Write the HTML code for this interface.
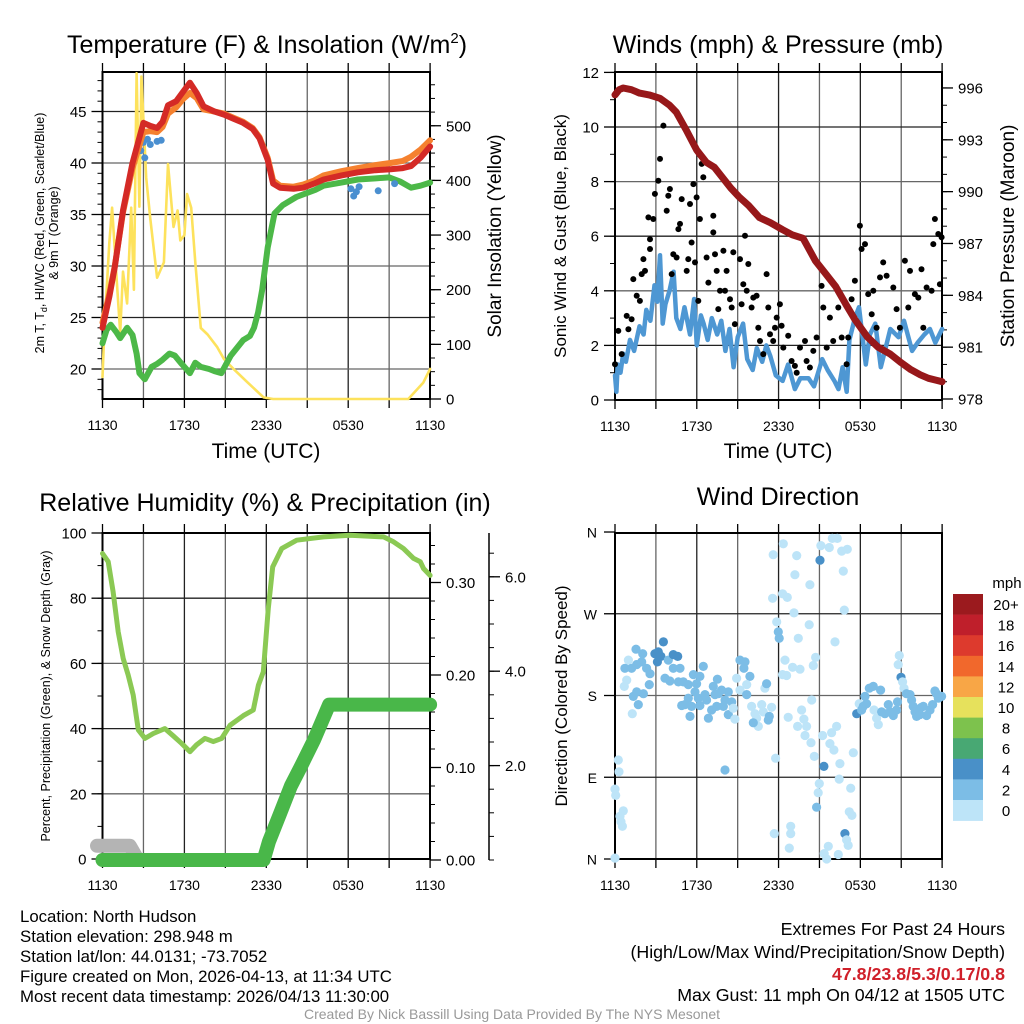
<!DOCTYPE html>
<html><head><meta charset="utf-8">
<style>
html,body{margin:0;padding:0;background:#fff;}
svg{display:block;font-family:"Liberation Sans",sans-serif;}
.nar{font-family:"Liberation Sans Narrow","Liberation Sans",sans-serif;}
</style></head>
<body>
<svg id="chart" width="1024" height="1024" viewBox="0 0 1024 1024" xmlns="http://www.w3.org/2000/svg">
<rect x="0" y="0" width="1024" height="1024" fill="#fff"/>
<g id="layer"></g>
<g font-size="25" text-anchor="middle" fill="#000">
<text x="267" y="53">Temperature (F) &amp; Insolation (W/m<tspan dy="-10" font-size="15">2</tspan><tspan dy="10">)</tspan></text>
<text x="778" y="53">Winds (mph) &amp; Pressure (mb)</text>
<text x="265" y="511">Relative Humidity (%) &amp; Precipitation (in)</text>
<text x="778" y="505">Wind Direction</text>
</g>
<g fill="#000" text-anchor="middle">
<text x="266" y="458" font-size="21">Time (UTC)</text>
<text x="778" y="458" font-size="21">Time (UTC)</text>
<text transform="translate(44,233) rotate(-90)" font-size="12.5">2m T, T<tspan font-size="9" dy="3">d</tspan><tspan dy="-3">, HI/WC (Red, Green, Scarlet/Blue)</tspan></text>
<text transform="translate(58,233) rotate(-90)" font-size="12.5">&amp; 9m T (Orange)</text>
<text transform="translate(501,236) rotate(-90)" font-size="19">Solar Insolation (Yellow)</text>
<text transform="translate(566,236) rotate(-90)" font-size="17">Sonic Wind &amp; Gust (Blue, Black)</text>
<text transform="translate(1014,236) rotate(-90)" font-size="19">Station Pressure (Maroon)</text>
<text transform="translate(50,696) rotate(-90)" font-size="12.5">Percent, Precipitation (Green), &amp; Snow Depth (Gray)</text>
<text transform="translate(567,696) rotate(-90)" font-size="17">Direction (Colored By Speed)</text>
</g>
<g class="nar" font-size="16.8" fill="#000">
<text x="20" y="922">Location: North Hudson</text>
<text x="20" y="942">Station elevation: 298.948 m</text>
<text x="20" y="962">Station lat/lon: 44.0131; -73.7052</text>
<text x="20" y="982">Figure created on Mon, 2026-04-13, at 11:34 UTC</text>
<text x="20" y="1002">Most recent data timestamp: 2026/04/13 11:30:00</text>
</g>
<g class="nar" font-size="17.8" fill="#000" text-anchor="end">
<text x="1005" y="935">Extremes For Past 24 Hours</text>
<text x="1005" y="958">(High/Low/Max Wind/Precipitation/Snow Depth)</text>
<text x="1005" y="980" fill="#d0202a" font-weight="bold">47.8/23.8/5.3/0.17/0.8</text>
<text x="1005" y="1001">Max Gust: 11 mph On 04/12 at 1505 UTC</text>
</g>
<text class="nar" x="512" y="1019" font-size="14" fill="#999" text-anchor="middle">Created By Nick Bassill Using Data Provided By The NYS Mesonet</text>
</svg>
<script>
// ---------- DATA (hours since 1130 UTC) ----------
var xTickLabels = ["1130","1730","2330","0530","1130"];
var redTimes = [0,0.5,0.9,1.5,2.2,3,3.5,4,4.4,4.8,5.4,5.9,6.4,6.9,7.4,8.2,8.9,9.6,10.3,11,11.5,12.1,12.5,13,14,14.7,15.5,16.2,17.5,18.7,20,21.1,22,22.6,23.3,24];
var redTemps = [24,27,29.9,35.4,40,43.9,43.6,43.4,44,45.6,46,46.9,47.8,46.8,45.5,45,44.7,44.3,43.9,43.3,42.4,40.3,38,37.6,37.5,37.6,38,38.4,38.8,39.1,39.3,39.4,39.5,39.7,40.5,41.6];
var orangeTemps = [24.5,27.3,30,35.2,39.5,43,43.1,43,43.5,44.8,45.4,46.2,46.8,46.3,45.2,45,44.8,44.4,44,43.4,42.5,40.5,38.3,37.8,37.7,37.9,38.3,38.8,39.2,39.5,39.8,40,40.2,40.6,41.3,42.2];
var dewTimes = [0,0.3,0.6,1,1.3,1.8,2.2,2.5,2.7,3.1,3.6,4,4.4,4.9,5.3,5.8,6.4,6.8,7.2,7.8,8.2,8.7,9.4,10.3,10.8,11.1,11.4,11.7,12.1,12.6,13.2,14.2,15.6,16.2,17.5,18.7,20,21,21.8,22.6,23.3,24];
var dewPoints = [22.5,23.8,24.3,23.6,23,24,23.3,21.5,19.6,19,20.2,20.5,20.9,21.5,21.3,20.5,19.6,20.6,20.2,20,19.8,19.6,21.3,22.8,23.2,24,25.5,27.7,31.8,35.1,35.9,36.7,37.4,37.8,38.1,38.4,38.5,38.6,38.2,37.6,37.8,38.1];
var chillTimes = [2.6,2.8,3.0,3.1,3.3,3.5,4.0,4.3,18.2,18.4,18.6,18.8,20.2,21.4];
var chillTemps = [41.5,41.2,42,40.5,42.3,41.8,42.1,42.2,37.5,36.8,37.2,37.7,37.3,38.0];
var insoTimes = [0,0.15,0.5,0.7,1,1.3,1.5,1.8,2.1,2.3,2.5,2.7,2.85,3.2,3.5,4,4.5,4.8,5.2,5.5,5.7,6,6.2,6.5,6.8,7.2,7.7,8.4,8.9,9.6,10.6,11.8,12.5,22.4,23.5,24];
var insoValues = [40,132,285,350,232,121,233,175,350,200,596,352,590,405,330,222,250,430,315,345,290,300,375,350,250,130,118,95,73,55,31,3,0,0,30,55];
var windTimes = [0,0.1,0.2,0.4,0.6,0.8,1.1,1.4,1.8,2.1,2.3,2.6,2.9,3.1,3.3,3.5,3.7,4.0,4.3,4.5,4.8,5.1,5.5,5.8,6.0,6.3,6.5,6.8,7.1,7.5,7.8,8.1,8.4,8.7,9.0,9.4,9.7,10.1,10.4,10.8,11.1,11.4,11.8,12.3,12.7,13.2,13.6,14.2,14.6,15.2,15.6,16.1,16.4,16.7,17.0,17.2,17.6,17.9,18.4,18.7,19.1,19.5,19.8,20.2,20.8,21.2,21.8,22.2,22.7,23.1,23.5,24];
var windSpeeds = [0.9,0.3,1.3,1.0,1.7,1.4,2.2,1.8,2.7,2.4,3.3,2.9,4.2,3.6,5.3,2.8,3.5,4.0,4.7,3.0,2.6,3.4,2.4,3.7,2.0,3.1,2.8,2.2,3.0,2.4,2.9,1.8,2.6,1.2,2.3,2.8,1.5,1.1,1.9,1.4,2.0,1.6,0.9,0.7,1.3,0.4,0.8,0.8,0.5,1.5,1.1,0.7,0.4,1.2,0.3,2.2,3.0,3.4,1.3,2.4,2.8,1.2,1.8,2.6,2.3,2.9,1.8,2.1,2.4,2.6,2.1,2.6];
var gustTimes = [0,0.24,0.49,0.86,0.98,1.22,1.34,1.59,1.83,1.96,2.08,2.2,2.45,2.57,2.57,2.81,2.93,3.18,3.3,3.55,3.79,3.91,4.03,4.16,4.28,4.52,4.65,4.77,4.89,5.26,5.38,5.5,5.62,5.75,5.87,5.99,6.11,6.23,6.36,6.48,6.72,6.85,7.21,7.21,7.34,7.46,7.58,7.7,7.95,8.07,8.19,8.44,8.56,8.68,8.8,9.17,9.29,9.41,9.54,9.66,9.78,10.02,10.15,10.39,10.51,10.64,10.88,11.12,11.25,11.37,11.61,11.74,11.86,12.1,12.22,12.35,12.71,12.96,13.2,13.33,13.57,13.94,14.06,14.3,14.55,14.79,15.16,15.28,15.53,15.77,16.01,16.38,16.63,16.99,17.11,17.36,17.6,17.97,18.09,18.34,18.58,18.83,18.95,19.19,19.44,19.68,19.93,20.42,20.66,20.9,21.27,21.52,21.64,22,22.25,22.49,22.62,22.86,23.23,23.35,23.47,23.72,23.84,23.96];
var gustSpeeds = [1.31,2.53,1.68,3.08,2.59,2.96,4.43,3.82,3.63,4.61,5.16,4.73,6.69,5.53,5.89,6.63,7.55,8.03,8.83,10.05,6.93,7.48,7.73,4.61,5.34,5.22,6.26,6.45,7.36,4.73,5.16,7.18,5.77,7.91,5.04,7.42,3.63,6.63,8.65,8.16,5.22,4.3,6.75,6.14,5.34,4.73,3.33,4,5.47,4,4.73,3.69,3.39,5.41,2.78,5.16,3.51,4.24,6.02,4,4.98,3.39,3.75,3.82,2.65,2.16,1.68,4.61,3.39,2.41,2.16,2.65,3.02,3.51,2.72,1.92,2.35,1.43,1.25,1,1.92,2.16,1.43,1.19,1.8,2.29,4.18,3.39,1.92,3.02,2.16,3.39,2.29,1.31,2.29,3.69,4.37,6.38,5.53,5.71,3.88,3.14,4,2.65,4.49,5.04,4.55,4.12,3.33,2.65,5.1,3.39,4.73,3.88,3.75,4.79,2.65,4.12,4,5.71,6.63,6.08,4.24,5.96];
var pressTimes = [0,0.3,0.6,1.2,1.8,2.5,3.3,4,4.5,5.2,6,6.7,7.3,7.9,8.5,9.1,9.8,10.6,11.4,12.3,13,13.8,14.7,15.5,16.2,17,17.6,18.5,19.3,20.2,21,21.7,22.4,23,23.5,24];
var pressValues = [995.6,995.9,996,995.9,995.7,995.6,995.4,995,994.6,993.6,992.4,991.7,991.4,990.8,990.2,989.7,989.2,988.5,988.2,987.8,987.5,987.3,986,985.2,984.5,983.4,982.6,981.6,981,980.6,980.1,979.7,979.4,979.2,979.1,979];
var rhTimes = [0,0.42,0.78,1.15,1.52,1.88,2.25,2.62,3.11,3.72,4.57,5.18,5.79,6.41,6.89,7.51,8.12,8.73,9.34,10.32,11.05,11.42,11.78,12.15,12.47,13.13,14.23,16.19,18.14,20.59,21.32,22.05,22.79,23.28,23.52,24];
var rhValues = [93.7,91.2,82,69.7,61.5,56.4,50.3,39.6,37,38.5,40,37.8,35.5,32.9,35,37,36,37,41,44,45.7,53.3,57.4,76.9,89.6,95.2,97.8,98.8,99.3,98.8,97.3,95.2,92.2,91.2,89.1,87];
var precipTimes = [0,11.8,12.2,13,13.8,14.5,15.5,16.6,24];
var precipValues = [0,0,0.02,0.05,0.08,0.1,0.13,0.168,0.168];
var snowTimes = [-0.4,2.0,2.6,24];
var snowValues = [0.3,0.3,0,0];
var dirTimes = [0,0.24,0.29,0,0.05,0.61,0.37,0.44,0.54,0.98,0.73,1.22,1.59,1.96,2.32,2.57,1.54,2.03,0.86,0.68,1.34,1.59,2.08,2.52,1.71,1.27,2.93,3.18,3.55,3.37,3.11,3.91,4.28,4.6,3.67,4.03,4.28,4.77,4.65,5.01,5.38,5.75,5.99,6.23,6.48,5.87,5.38,5.13,4.89,5.62,6.11,6.23,6.6,6.72,5.5,6.85,7.21,7.51,7.34,7.58,7.09,7.46,7.82,8.07,8.31,7.95,8.31,8.56,8.68,8.8,8.92,9.17,9.54,9.46,9.9,9.17,9.66,9.66,10.02,10.27,10.39,10.51,10.76,11,10.88,11.12,11.25,11.32,10.15,11.49,8.07,11.61,12.35,13.33,11.56,12.3,12.64,13.2,13.13,11.86,11.98,12.05,13.45,14.25,14.3,12.47,13.03,13.57,12.3,12.59,12.71,14.55,14.72,14.43,13.69,13.86,14.06,13.4,13.94,14.38,11.78,14.62,14.99,14.91,14.79,11.69,12.89,12.89,12.79,15.11,15.04,15.72,15.94,16.31,16.63,17.04,16.75,16.82,16.14,15.23,15.33,15.77,16.06,15.89,16.26,16.5,16.45,17.29,17.48,17.19,17.38,16.87,16.99,17.11,15.65,15.35,15.53,16.38,17.73,17.92,18.22,18.46,18.09,18.34,18.66,18.95,19.49,19,19.19,19.32,19.56,19.8,20.05,20.17,20.42,20.66,20.73,20.78,20.86,20.98,21.1,21.2,21.39,21.64,21.76,21.88,22.01,22.13,22.37,22.49,22.62,22.86,23.11,23.3,23.47,23.59,23.72,23.84,23.96];
var dirDegrees = [1,109,96,77,70,53,47,41,36,219,210,210,214,217,210,204,231,226,197,190,179,184,182,192,170,160,226,228,239,223,217,219,225,223,199,196,210,210,195,195,192,203,193,201,212,184,177,170,169,168,177,169,181,175,157,155,190,198,181,182,164,168,186,175,184,168,159,173,166,154,199,219,217,210,201,186,192,181,168,160,155,146,170,188,162,193,153,157,150,167,98,335,347,334,287,292,288,313,271,261,250,243,243,258,302,219,211,209,203,202,156,213,222,175,164,154,146,146,136,128,111,113,83,73,57,28,36,28,12,345,329,343,353,353,339,341,317,274,239,136,102,127,120,139,146,105,88,78,117,52,48,28,21,15,14,6,0,5,160,171,168,171,164,179,188,190,186,164,155,148,162,160,170,162,158,164,173,214,224,200,195,188,182,181,175,168,162,157,159,167,168,158,164,170,185,182,177,179,179];
var dirSpeeds = [1,1,1,1,1,1,1,1,1,1,3,3,3,3,3,3,3,3,1,1,3,3,3,3,3,1,5,5,5,5,5,3,5,5,3,3,3,3,3,3,3,3,3,3,3,3,3,3,3,3,3,3,3,3,3,3,3,3,3,3,3,3,3,3,3,3,3,3,1,1,1,3,3,3,3,1,1,3,1,1,1,1,1,1,1,3,3,3,3,1,3,1,1,1,1,1,1,1,1,1,3,3,1,1,1,1,1,1,1,1,1,1,1,1,1,1,1,1,1,1,1,1,1,1,3,1,1,1,1,1,5,1,1,1,1,1,1,1,1,1,5,1,1,1,1,1,1,1,1,1,1,5,1,1,1,1,1,1,5,1,3,3,3,3,3,3,3,1,1,1,3,3,3,3,3,3,3,1,1,5,1,1,3,3,3,3,3,3,3,3,3,3,3,3,3,3,3,3,3,3,3];
var speedBinLabels = ["20+","18","16","14","12","10","8","6","4","2","0"];
var speedBinColors = ["#9b1a1e","#bf1f2b","#dd3a2d","#f1682c","#f8a646","#e6e15c","#7dc24d","#48a873","#4990c8","#7cbde6","#bde4f8"];

// ---------- SCALES ----------
function xL(t){return 102.5+t*13.65;}
function xR(t){return 615+t*13.63;}
function yTemp(v){return 369-(v-20)*10.3;}
function yIns(v){return 399-v*0.5465;}
function yWind(v){return 400-v*27.3;}
function yPres(v){return 399-(v-978)*17.28;}
function yRH(v){return 859-v*3.26;}
function yPrec(v){return 860-v*925;}
function ySnow(v){return 860-v*47.2;}
function yDir(d){return 859-d*0.9083;}
function speedColor(s){var i=Math.floor(s/2);if(i>10)i=10;return speedBinColors[10-i];}

var NS="http://www.w3.org/2000/svg";
var layer=document.getElementById('layer');
function mk(tag,attrs,parent){var e=document.createElementNS(NS,tag);for(var k in attrs)e.setAttribute(k,attrs[k]);(parent||layer).appendChild(e);return e;}
function txt(x,y,s,size,anchor,parent){var e=mk('text',{x:x,y:y,'font-size':size,'text-anchor':anchor,fill:'#000'},parent);e.textContent=s;return e;}
function pathFrom(ts,vs,fx,fy){var d='';for(var i=0;i<ts.length;i++){d+=(i?'L':'M')+fx(ts[i]).toFixed(1)+' '+fy(vs[i]).toFixed(1);}return d;}

function panel(name,x0,x1,y0,y1,fx,hvals,fy){
  var g=mk('g',{});
  
  
  for(var h=3;h<24;h+=3){var ln=mk('line',{x1:fx(h),x2:fx(h),y1:y0,y2:y1,stroke:(h%6==0?'#222':'#666'),'stroke-width':1.3},g);
    
    }
  for(var i=0;i<hvals.length;i++){var yy=fy(hvals[i]);var ln2=mk('line',{x1:x0,x2:x1,y1:yy,y2:yy,stroke:(i%2?'#666':'#222'),'stroke-width':1.3},g);
    
    }
  for(var h2=0;h2<=24;h2+=3){var tk=mk('line',{x1:fx(h2),x2:fx(h2),y1:y0-9,y2:y0,stroke:'#000','stroke-width':1.3},g);
    
    
    var tb=mk('line',{x1:fx(h2),x2:fx(h2),y1:y1,y2:y1+9,stroke:'#000','stroke-width':1.3},g);
    
    }
  var f=mk('rect',{x:x0,y:y0,width:x1-x0,height:y1-y0,fill:'none',stroke:'#000','stroke-width':2},g);
  
  
  for(var j=0;j<xTickLabels.length;j++){var lb=txt(fx(j*6),y1+31,xTickLabels[j],14,'middle',g);
    
    }
}
function yAxis(name,x,vals,fy,labels,side,minorStep,lo,hi,fs){
  var g=mk('g',{});
  
  
  var dir=side=='left'?-1:1;
  for(var v=lo;v<=hi+1e-9;v+=minorStep){var yy=fy(v);var m=mk('line',{x1:x,x2:x+dir*5,y1:yy,y2:yy,stroke:'#000','stroke-width':1},g);
    
    }
  for(var i=0;i<vals.length;i++){var y=fy(vals[i]);var t=mk('line',{x1:x,x2:x+dir*11,y1:y,y2:y,stroke:'#000','stroke-width':1.3},g);
    
    
    var l=txt(x+dir*16,y+5.5,labels[i],fs||15,side=='left'?'end':'start',g);
    
    }
}
function line(name,ts,vs,fx,fy,color,w,cap){var p=mk('path',{d:pathFrom(ts,vs,fx,fy),fill:'none',stroke:color,'stroke-width':w,'stroke-linejoin':'round','stroke-linecap':cap||'round'});
  
  
  return p;}
function dots(name,ts,vs,fx,fy,r,colorFn){var g=mk('g',{});
  
  
  for(var i=0;i<ts.length;i++){var c=mk('circle',{cx:fx(ts[i]).toFixed(1),cy:fy(vs[i]).toFixed(1),r:r,fill:colorFn(i)},g);
    
    }}

// ---------- PANEL 1 ----------
panel('temperature-panel',102.5,430,72,399,xL,[45,40,35,30,25,20],yTemp);
yAxis('temperature-axis',102.5,[20,25,30,35,40,45],yTemp,["20","25","30","35","40","45"],'left',1,18,48);
yAxis('insolation-axis',430,[0,100,200,300,400,500],yIns,["0","100","200","300","400","500"],'right',25,0,575);
line('insolation-line',insoTimes,insoValues,xL,yIns,'#fde25c',2.6);
line('dew-point-line',dewTimes,dewPoints,xL,yTemp,'#4cb848',6);
dots('wind-chill',chillTimes,chillTemps,xL,yTemp,3.5,function(){return '#4a8fd0';});
line('9m-temp-line',redTimes,orangeTemps,xL,yTemp,'#f5812f',6);
line('2m-temp-line',redTimes,redTemps,xL,yTemp,'#d42a26',6);

// ---------- PANEL 2 ----------
panel('winds-panel',615,942,72,400,xR,[10,8,6,4,2],yWind);
yAxis('wind-axis',615,[0,2,4,6,8,10,12],yWind,["0","2","4","6","8","10","12"],'left',1,0,12);
yAxis('pressure-axis',942,[978,981,984,987,990,993,996],yPres,["978","981","984","987","990","993","996"],'right',1,978,996);
line('sonic-wind-line',windTimes,windSpeeds,xR,yWind,'#4e97d3',4.5);
dots('gust',gustTimes,gustSpeeds,xR,yWind,3,function(){return '#000';});
line('pressure-line',pressTimes,pressValues,xR,yPres,'#97181a',7);

// ---------- PANEL 3 ----------
panel('humidity-panel',102.5,430,533,859,xL,[80,60,40,20],yRH);
yAxis('humidity-axis',102.5,[0,20,40,60,80,100],yRH,["0","20","40","60","80","100"],'left',10,0,100);
yAxis('precip-axis',430,[0,0.1,0.2,0.3],yPrec,["0.00","0.10","0.20","0.30"],'right',0.02,0,0.34);
(function(){var a=mk('line',{x1:489,x2:489,y1:533,y2:860,stroke:'#000','stroke-width':1.5});
  
  })();
yAxis('snow-axis',489,[2,4,6],ySnow,["2.0","4.0","6.0"],'right',0.5,0,6.5);
line('snow-depth-line',snowTimes.slice(0,3),snowValues.slice(0,3),xL,ySnow,'#b4b4b4',14);
line('precip-line',precipTimes,precipValues,xL,yPrec,'#49b749',14);
line('humidity-line',rhTimes,rhValues,xL,yRH,'#8bc954',5);

// ---------- PANEL 4 ----------
panel('direction-panel',615,942,533,859,xR,[270,180,90],yDir);
(function(){var g=mk('g',{});
  
  
  var labs=["N","E","S","W","N"];
  for(var i=0;i<5;i++){var y=yDir(i*90);var t=mk('line',{x1:615,x2:604,y1:y,y2:y,stroke:'#000','stroke-width':1.3},g);
    
    
    var l=txt(597,y+5.5,labs[i],14,'end',g);
    
    }})();
dots('wind-direction',dirTimes,dirDegrees,xR,yDir,4.6,function(i){return speedColor(dirSpeeds[i]);});

// colorbar
(function(){var g=mk('g',{});
  
  
  var h=20.6,y0=594;
  for(var i=0;i<speedBinLabels.length;i++){var r=mk('rect',{x:953,y:y0+i*h,width:30,height:h+0.3,fill:speedBinColors[i]},g);
    
    
    var l=txt(1006,y0+i*h+16,speedBinLabels[i],15,'middle',g);
    
    }
  var m=txt(1007,588,'mph',15,'middle',g);
  
  })();
</script>
</body></html>
